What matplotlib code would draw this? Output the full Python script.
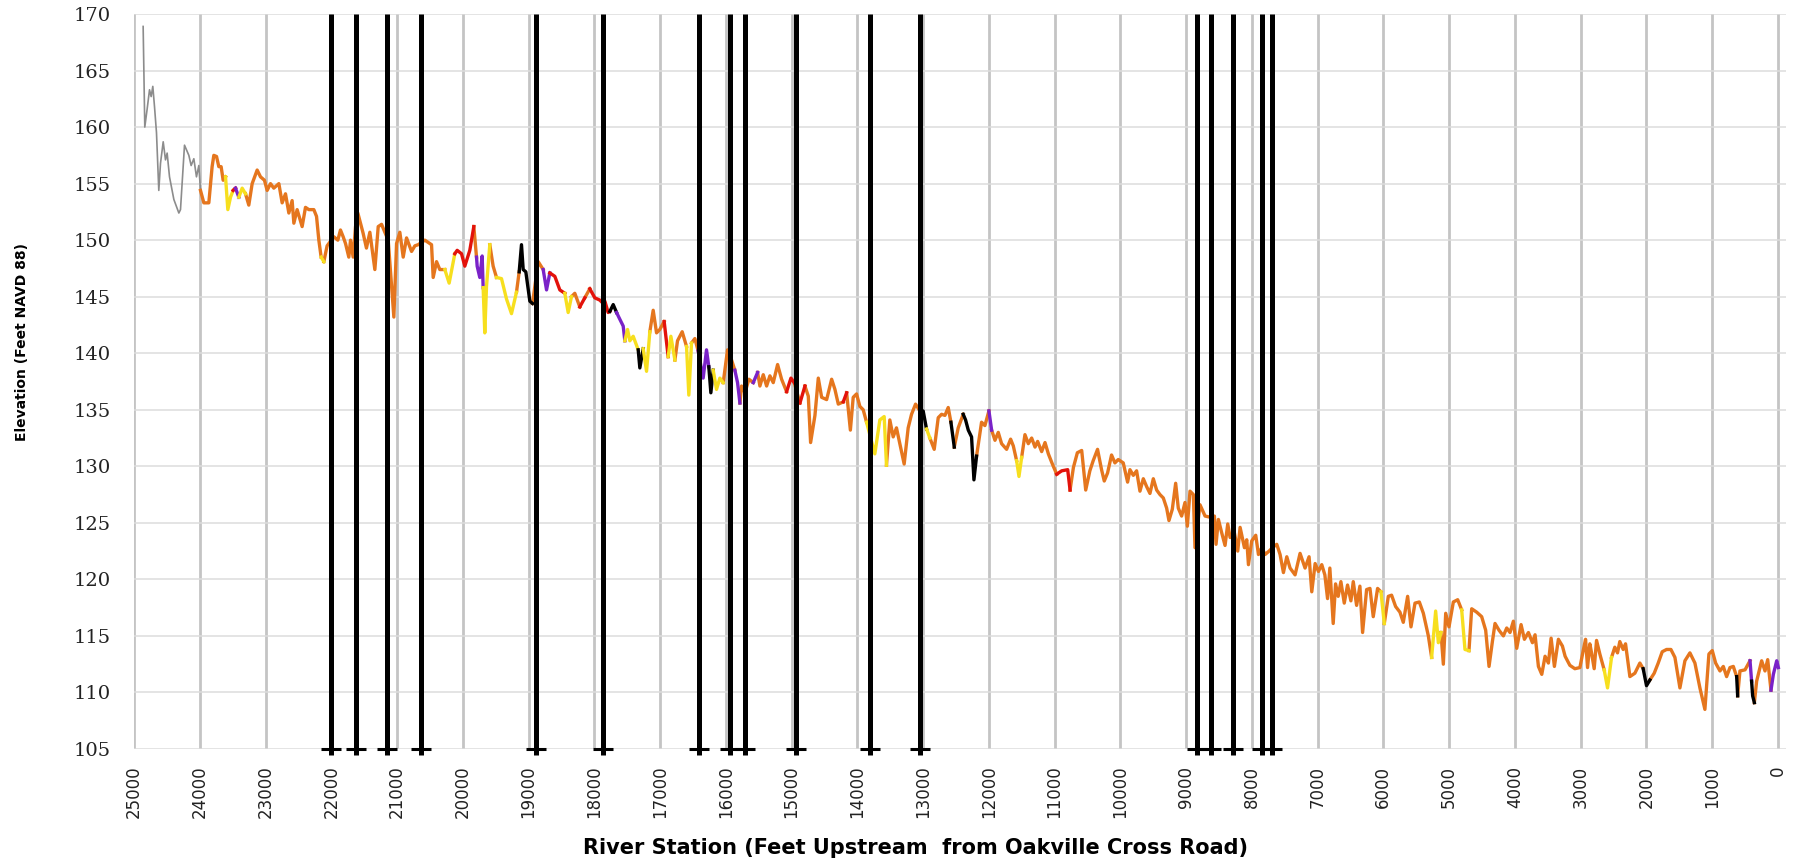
import matplotlib
matplotlib.use('Agg')
from matplotlib import pyplot as plt

# ------------------------------------------------------------
# Upstream reach above the surveyed profile (thin gray line)
up_station = [24862, 24837, 24801, 24765, 24740, 24715, 24689, 24659, 24624,
              24598, 24557, 24522, 24497, 24461, 24395, 24319, 24294, 24233,
              24167, 24132, 24091, 24051, 24015, 23990]
up_elev = [168.9, 160.0, 161.6, 163.3, 162.7, 163.6, 161.8, 159.5, 154.4,
           156.8, 158.7, 157.1, 157.7, 155.6, 153.6, 152.4, 152.7, 158.4,
           157.5, 156.6, 157.2, 155.6, 156.6, 154.4]

# Thalweg profile; each point carries the class of the segment ending there
# o = orange, y = yellow, r = red, p = purple, k = black
station = [
    23990, 23939, 23863, 23813, 23787, 23746, 23711, 23676, 23645, 23609,
    23574, 23533, 23493, 23457, 23407, 23356, 23305, 23255, 23204, 23128,
    23077, 23017, 22976, 22925, 22875, 22798, 22748, 22697, 22646, 22596,
    22570, 22520, 22444, 22393, 22342, 22266, 22225, 22190, 22155, 22114,
    22064, 21962, 21901, 21861, 21820, 21784, 21734, 21708, 21668, 21632,
    21597, 21516, 21466, 21414, 21338, 21287, 21236, 21186, 21135, 21049,
    21008, 20958, 20907, 20856, 20780, 20729, 20679, 20578, 20476, 20451,
    20400, 20350, 20274, 20208, 20122, 20086, 20020, 19970, 19894, 19833,
    19792, 19782, 19742, 19706, 19691, 19666, 19640, 19590, 19539, 19488,
    19412, 19336, 19260, 19184, 19143, 19108, 19082, 19042, 18981, 18940,
    18854, 18778, 18727, 18677, 18601, 18525, 18449, 18398, 18348, 18297,
    18221, 18145, 18069, 17993, 17917, 17866, 17840, 17790, 17764, 17713,
    17662, 17612, 17561, 17536, 17495, 17460, 17409, 17333, 17308, 17257,
    17206, 17156, 17105, 17054, 17004, 16938, 16877, 16836, 16775, 16735,
    16664, 16598, 16563, 16522, 16471, 16421, 16345, 16294, 16259, 16228,
    16192, 16142, 16091, 16040, 15974, 15913, 15863, 15822, 15786, 15761,
    15710, 15649, 15583, 15517, 15482, 15431, 15380, 15330, 15279, 15213,
    15152, 15076, 15010, 14960, 14873, 14797, 14746, 14711, 14645, 14594,
    14543, 14467, 14391, 14341, 14290, 14214, 14163, 14106, 14063, 14012,
    13962, 13911, 13860, 13734, 13658, 13592, 13557, 13506, 13455, 13405,
    13354, 13288, 13227, 13176, 13115, 13049, 12999, 12948, 12897, 12831,
    12770, 12719, 12668, 12618, 12577, 12526, 12466, 12390, 12354, 12313,
    12263, 12227, 12187, 12111, 12060, 11999, 11958, 11907, 11857, 11806,
    11730, 11669, 11628, 11578, 11542, 11501, 11451, 11400, 11349, 11298,
    11258, 11197, 11146, 11095, 11034, 10968, 10892, 10801, 10765, 10714,
    10654, 10588, 10527, 10464, 10413, 10347, 10286, 10245, 10195, 10134,
    10083, 10032, 9956, 9890, 9854, 9803, 9753, 9702, 9651, 9600,
    9550, 9499, 9448, 9398, 9347, 9296, 9261, 9210, 9159, 9119,
    9068, 9017, 8981, 8941, 8890, 8865, 8789, 8712, 8636, 8570,
    8545, 8509, 8458, 8408, 8367, 8331, 8265, 8215, 8179, 8113,
    8078, 8052, 8002, 7941, 7900, 7850, 7799, 7738, 7687, 7621,
    7571, 7520, 7469, 7419, 7343, 7267, 7191, 7130, 7089, 7038,
    6987, 6937, 6890, 6849, 6814, 6763, 6727, 6687, 6646, 6595,
    6545, 6494, 6458, 6407, 6357, 6316, 6255, 6204, 6154, 6088,
    6037, 5986, 5925, 5875, 5814, 5748, 5697, 5631, 5580, 5519,
    5453, 5392, 5316, 5266, 5205, 5164, 5124, 5088, 5052, 5002,
    4936, 4870, 4809, 4759, 4698, 4657, 4581, 4505, 4444, 4393,
    4342, 4302, 4241, 4175, 4124, 4074, 4023, 3972, 3906, 3855,
    3794, 3733, 3693, 3642, 3591, 3541, 3490, 3449, 3399, 3338,
    3277, 3236, 3164, 3088, 3011, 2961, 2925, 2895, 2860, 2834,
    2794, 2758, 2708, 2642, 2591, 2530, 2480, 2439, 2404, 2353,
    2317, 2251, 2175, 2099, 2049, 1998, 1947, 1881, 1820, 1759,
    1693, 1627, 1566, 1490, 1414, 1338, 1262, 1186, 1110, 1049,
    998, 947, 881, 830, 780, 729, 678, 627, 612, 577,
    500, 424, 400, 384, 358, 323, 247, 196, 155, 105,
    69, 18, -7,
]
elev = [
    154.4, 153.3, 153.3, 156.5, 157.5, 157.4, 156.5, 156.5, 155.3, 155.6,
    152.7, 153.8, 154.4, 154.6, 153.8, 154.6, 154.1, 153.1, 155.0, 156.2,
    155.6, 155.3, 154.4, 155.0, 154.6, 155.0, 153.3, 154.1, 152.4, 153.5,
    151.5, 152.7, 151.2, 152.9, 152.7, 152.7, 152.1, 150.0, 148.5, 148.1,
    149.5, 150.3, 150.0, 150.9, 150.3, 149.7, 148.5, 150.0, 148.5, 151.2,
    152.4, 150.6, 149.3, 150.7, 147.4, 151.2, 151.4, 150.7, 150.0, 143.2,
    149.7, 150.7, 148.5, 150.2, 149.0, 149.5, 149.6, 150.0, 149.6, 146.7,
    148.1, 147.4, 147.4, 146.2, 148.8, 149.1, 148.8, 147.7, 149.1, 151.2,
    148.5, 147.7, 146.7, 148.6, 145.8, 141.8, 145.9, 149.6, 147.7, 146.7,
    146.6, 144.8, 143.5, 145.4, 147.2, 149.6, 147.4, 147.2, 144.6, 144.4,
    148.1, 147.4, 145.6, 147.1, 146.8, 145.6, 145.3, 143.6, 145.0, 145.3,
    144.1, 144.9, 145.7, 144.9, 144.7, 144.4, 144.6, 143.6, 143.7, 144.3,
    143.6, 143.0, 142.4, 141.1, 142.1, 141.1, 141.5, 140.3, 138.7, 140.4,
    138.4, 141.9, 143.8, 141.8, 142.1, 142.8, 139.7, 141.5, 139.4, 141.1,
    141.9, 140.6, 136.3, 140.9, 141.3, 140.2, 137.8, 140.3, 138.8, 136.5,
    138.5, 136.8, 137.8, 137.4, 140.3, 139.4, 138.5, 137.4, 135.6, 137.1,
    136.5, 137.7, 137.4, 138.3, 137.1, 138.1, 137.1, 138.0, 137.4, 139.0,
    137.7, 136.6, 137.8, 137.4, 135.6, 137.1, 136.2, 132.1, 134.5, 137.8,
    136.1, 135.9, 137.7, 136.8, 135.5, 135.7, 136.5, 133.2, 136.1, 136.4,
    135.3, 135.0, 133.9, 131.1, 134.1, 134.4, 130.1, 134.1, 132.6, 133.4,
    132.0, 130.2, 133.4, 134.6, 135.5, 134.9, 134.9, 133.3, 132.5, 131.5,
    134.3, 134.6, 134.5, 135.2, 133.9, 131.7, 133.4, 134.6, 134.1, 133.2,
    132.6, 128.8, 130.9, 133.9, 133.6, 134.9, 133.2, 132.3, 133.0, 132.0,
    131.5, 132.4, 131.8, 130.5, 129.1, 130.8, 132.8, 132.0, 132.5, 131.7,
    132.2, 131.3, 132.1, 131.1, 130.2, 129.3, 129.6, 129.7, 127.9, 129.9,
    131.2, 131.4, 127.9, 129.6, 130.5, 131.5, 129.7, 128.7, 129.4, 131.0,
    130.3, 130.6, 130.3, 128.6, 129.7, 129.2, 129.6, 127.8, 128.9, 128.2,
    127.6, 128.9, 127.9, 127.5, 127.2, 126.3, 125.2, 126.2, 128.5, 126.3,
    125.6, 126.8, 124.7, 127.8, 127.5, 122.8, 126.6, 125.6, 125.5, 125.6,
    123.1, 125.3, 124.1, 123.0, 124.9, 123.7, 124.1, 122.5, 124.6, 122.8,
    123.5, 121.3, 123.4, 123.9, 122.2, 122.8, 122.2, 122.5, 122.8, 123.1,
    122.2, 120.6, 122.0, 121.0, 120.4, 122.3, 121.0, 122.0, 118.9, 121.4,
    120.7, 121.3, 120.4, 118.3, 121.0, 116.1, 119.6, 118.5, 119.8, 117.9,
    119.5, 118.1, 119.8, 117.7, 119.4, 115.3, 119.1, 119.2, 116.7, 119.2,
    118.9, 116.1, 118.5, 118.6, 117.6, 117.1, 116.2, 118.5, 115.8, 117.9,
    118.0, 117.0, 115.0, 113.1, 117.2, 114.4, 115.3, 112.5, 117.0, 115.8,
    118.0, 118.2, 117.3, 113.8, 113.7, 117.4, 117.1, 116.7, 115.5, 112.3,
    114.5, 116.1, 115.5, 115.0, 115.7, 115.3, 116.3, 113.9, 116.0, 114.7,
    115.3, 114.4, 115.1, 112.3, 111.6, 113.2, 112.6, 114.8, 112.3, 114.7,
    114.1, 113.2, 112.4, 112.1, 112.2, 113.7, 114.7, 112.2, 114.3, 113.5,
    112.1, 114.6, 113.4, 112.0, 110.4, 113.1, 114.0, 113.5, 114.5, 113.8,
    114.3, 111.4, 111.7, 112.6, 112.1, 110.6, 111.1, 111.7, 112.6, 113.6,
    113.8, 113.8, 113.1, 110.4, 112.8, 113.5, 112.6, 110.4, 108.5, 113.4,
    113.7, 112.6, 111.9, 112.3, 111.4, 112.2, 112.3, 111.4, 109.7, 111.9,
    112.0, 112.8, 111.0, 109.7, 109.1, 111.0, 112.8, 111.9, 112.9, 110.2,
    111.6, 112.8, 112.2,
]
cls = list(
    "oooooooooo" "yyyrpyyooo" "oooooooooo" "oooooooooy" "oooooooooo"
    "oooooooooo" "oooooooooo" "oooyyrrrrr" "oppppyyyoo" "yyyyokkkkk"
    "oopprrryyo" "ororrrrrrk" "kpppyyyykk" "yyooooryyo" "ooyyoopppk"
    "kyyyoooppo" "ooopoooooo" "oorroroooo" "oooooorooo" "oooyyyyooo"
    "ooooookkyo" "oooookookk" "kkkooopooo" "ooooyyoooo" "oooooorrro"
    "oooooooooo" "oooooooooo" "oooooooooo" "oooooooooo" "oooooooooo"
    "oooooooooo" "oooooooooo" "oooooooooo" "oooooooooo" "oyoooooooo"
    "ooooyyyooo" "oooyyooooo" "oooooooooo" "oooooooooo" "oooooooooo"
    "ooooyyoooo" "oooookkooo" "oooooooooo" "ooooooooko" "oopkkooooo"
    "ppp"
)
assert len(station) == len(elev) == len(cls), (len(station), len(elev), len(cls))

structures = [22010, 21630, 21160, 20630, 18890, 17870, 16410, 15930, 15710,
              14930, 13810, 13050, 8830, 8620, 8280, 7840, 7700]

colors = {'o': '#E5761E', 'y': '#F7DF1E', 'r': '#E3120B',
          'p': '#7A22C8', 'k': '#000000'}

# ------------------------------------------------------------
fig = plt.figure(figsize=(18.02, 8.6), dpi=100)
ax = fig.add_axes([0.0744, 0.1291, 0.9166, 0.8546])

ax.plot(up_station, up_elev, color='#8C8C8C', lw=1.2, zorder=3)

# split the profile into runs of one class and draw each run
runs = []
i = 1
while i < len(station):
    j = i
    while j + 1 < len(station) and cls[j + 1] == cls[i]:
        j += 1
    runs.append((i - 1, j, cls[i]))
    i = j + 1
for a, b, c in runs:
    ax.plot(station[a:b + 1], elev[a:b + 1], color=colors[c], lw=2.4,
            zorder=3 if c == 'o' else 3.5)

# structures crossing the channel
ax.vlines(structures, 104.45, 170, color='black', lw=3.6, zorder=5,
          clip_on=False)
ax.plot(structures, [105] * len(structures), ls='none', marker='_',
        ms=14, mew=2.2, color='black', zorder=5, clip_on=False)

ax.set_xlim(25000, -120)
ax.set_ylim(105, 170)
ax.set_xticks(range(0, 25001, 1000))
ax.set_yticks(range(105, 171, 5))
ax.set_xticklabels([str(v) for v in range(0, 25001, 1000)], rotation=90,
                   fontsize=12, family='DejaVu Sans', color='#222222')
ax.set_yticklabels([str(v) for v in range(105, 171, 5)], fontsize=14,
                   family='DejaVu Serif', color='#222222')
ax.tick_params(axis='x', length=0, pad=12)
ax.tick_params(axis='y', length=0, pad=17)

ax.grid(axis='x', color='#C4C4C4', lw=2.0, zorder=0)
ax.grid(axis='y', color='#DCDCDC', lw=1.1, zorder=0)
ax.set_axisbelow(True)
for s in ax.spines.values():
    s.set_visible(False)

fig.text(0.508, 1 - 848 / 860,
         'River Station (Feet Upstream  from Oakville Cross Road)',
         ha='center', va='center', fontsize=15, fontweight='bold',
         family='DejaVu Sans')
fig.text(22 / 1802, 1 - 342 / 860, 'Elevation (Feet NAVD 88)', rotation=90,
         ha='center', va='center', fontsize=10, fontweight='bold',
         family='DejaVu Sans')

fig.savefig('out.png', dpi=100)
